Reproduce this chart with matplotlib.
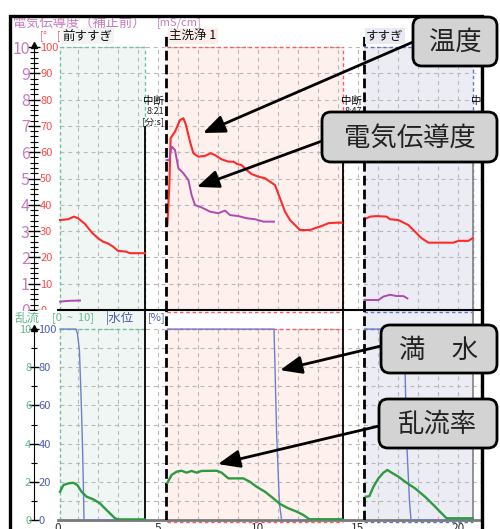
import matplotlib.pyplot as plt
from matplotlib.patches import FancyBboxPatch, Rectangle
from matplotlib.ticker import MultipleLocator

plt.rcParams['font.family'] = ['Noto Sans CJK JP', 'DejaVu Sans']

# ---- 工程 ----------------------------------------------------------------
step_names = ['前すすぎ', '主洗浄 1', 'すすぎ']
step_start = [0.1, 5.45, 15.3]      # 工程開始 [分]
step_stop = [4.35, 14.25, 20.75]    # 中断 [分]
stop_clock = ['8:21', '8:47', '']
restart_at = [5.4, 15.3]

# ---- 温度 [℃] ------------------------------------------------------------
temp_pre_t = [0.1, 0.5, 0.8, 1.0, 1.35, 1.7, 2.0, 2.25, 2.5, 2.75, 3.0, 3.4, 3.6, 4.35]
temp_pre = [34.2, 34.5, 35.5, 34.9, 32.7, 29.4, 27.3, 26.0, 25.3, 24.1, 22.5, 22.2, 21.6, 21.6]
temp_main_t = [5.47, 5.57, 5.63, 5.85, 6.1, 6.27, 6.4, 6.6, 6.77, 7.02, 7.35, 7.63, 7.85,
               8.18, 8.52, 8.77, 8.97, 9.18, 9.43, 9.68, 10.02, 10.35, 10.6, 10.85, 11.1,
               11.35, 11.6, 11.85, 12.1, 12.6, 12.85, 13.18, 13.52, 13.93, 14.2]
temp_main = [32.3, 48.2, 65.3, 67.8, 72.2, 72.9, 70.3, 64.0, 59.6, 58.3, 58.6, 59.6, 58.9,
             57.3, 56.4, 56.4, 55.5, 55.1, 53.2, 51.7, 50.7, 50.1, 48.8, 47.5, 42.5,
             37.4, 34.2, 32.3, 30.4, 30.4, 31.1, 31.9, 33.0, 33.2, 33.2]
temp_rin_t = [15.32, 15.6, 15.93, 16.43, 16.6, 17.02, 17.18, 17.52, 17.85, 18.18, 18.52,
              19.1, 19.77, 20.02, 20.52, 20.73]
temp_rin = [34.5, 35.5, 35.7, 35.5, 34.5, 34.2, 33.6, 32.3, 29.8, 27.3, 25.6,
            25.6, 25.6, 26.3, 26.3, 27.3]

# ---- 電気伝導度 [mS/cm] ---------------------------------------------------
cond_pre_t = [0.1, 0.6, 1.1]
cond_pre = [0.32, 0.35, 0.36]
cond_main_t = [5.43, 5.57, 5.63, 5.7, 5.85, 6.02, 6.27, 6.52, 6.68, 6.85, 7.18, 7.6, 8.02,
               8.35, 8.6, 9.02, 9.43, 9.85, 10.27, 10.8]
cond_main = [5.70, 5.70, 6.02, 6.21, 6.08, 5.39, 5.20, 4.94, 4.37, 3.99, 3.90, 3.74, 3.68,
             3.78, 3.61, 3.57, 3.49, 3.45, 3.36, 3.36]
cond_rin_t = [15.32, 16.02, 16.27, 16.6, 16.93, 17.27, 17.47]
cond_rin = [0.38, 0.38, 0.51, 0.58, 0.53, 0.53, 0.44]

# ---- 水位 [%] -------------------------------------------------------------
level_pre_t = [0.1, 0.9, 0.97, 1.07, 1.13, 1.18, 1.23, 1.27, 1.3, 4.35]
level_pre = [100, 100, 97.7, 89, 71.6, 55.9, 36.6, 17.4, 0, 0]
level_main_t = [5.47, 10.8, 10.85, 10.93, 11.07, 11.18, 14.25]
level_main = [100, 100, 80.3, 45.4, 8.7, 0, 0]
level_rin_t = [15.32, 17.3, 17.35, 17.43, 17.57, 17.65, 20.73]
level_rin = [100, 100, 80, 41.9, 10.5, 0, 0]

# ---- 乱流 [0~10] ----------------------------------------------------------
turb_pre_t = [0.1, 0.27, 0.52, 0.77, 0.97, 1.18, 1.43, 1.77, 2.1, 2.43, 2.85, 3.02, 4.35]
turb_pre = [1.48, 1.83, 1.92, 1.95, 1.83, 1.48, 1.22, 1.08, 0.87, 0.52, 0.09, 0.03, 0.03]
turb_main_t = [5.47, 5.68, 5.93, 6.18, 6.43, 6.68, 6.93, 7.18, 7.93, 8.18, 8.52, 9.27, 9.6,
               9.93, 10.35, 10.77, 11.1, 11.52, 11.93, 12.27, 12.57, 14.2]
turb_main = [1.95, 2.36, 2.53, 2.58, 2.48, 2.57, 2.48, 2.57, 2.58, 2.48, 2.18, 2.18, 2.0,
             1.74, 1.48, 1.13, 0.84, 0.61, 0.44, 0.26, 0.04, 0.04]
turb_rin_t = [15.4, 15.57, 15.77, 16.02, 16.27, 16.47, 16.68, 17.02, 17.43, 17.85, 18.35,
              18.77, 19.18, 19.43, 20.73]
turb_rin = [1.22, 1.25, 1.74, 2.18, 2.48, 2.62, 2.48, 2.27, 1.95, 1.66, 1.22,
            0.79, 0.35, 0.09, 0.09]

x_ticks = [0, 5, 10, 15, 20]
temp_ticks = list(range(0, 101, 10))
cond_ticks = list(range(0, 11))
level_ticks = list(range(0, 101, 20))
turb_ticks = list(range(0, 11, 2))

# colours
STEP_EDGE = ['#6cc3a3', '#ff5a5a', '#5a78d2']
STEP_FILL = ['#eff6f4', '#fdf0ed', '#ececf5']
LABEL_BG = ['#f2f4f3', '#fbeeea', '#e9e9f3']
STOP_COL = ['black', 'black', '#8a8a8a']
GRID = '#b8b8b8'
RED = '#ff2a2a'
PINK = '#b04ab0'
BLUE = '#6b80cc'
GREEN = '#2e9a40'
PINK_LBL = '#c77cbf'
RED_LBL = '#ff4a4a'
GREEN_LBL = '#62b98c'
BLUE_LBL = '#4a5fb0'

W, H = 500, 529
XMIN, XMAX = -1.2, 21.2


def inch(x, y):
    # pixel position (top-left origin) -> inches for dpi_scale_trans
    return x / 100, (H - y) / 100


fig = plt.figure(figsize=(W / 100, H / 100), dpi=100, facecolor='white')
ax_t = fig.add_axes([34 / W, 1 - 310 / H, 448 / W, 263 / H])
ax_c = ax_t.twinx()
ax_b = fig.add_axes([34 / W, 1 - 520 / H, 448 / W, 210 / H], sharex=ax_t)
ax_r = ax_b.twinx()

ax_t.set_xlim(XMIN, XMAX)
ax_t.set_ylim(0, 100)
ax_c.set_ylim(0, 10)
ax_b.set_ylim(0, 110)
ax_r.set_ylim(0, 11)

dash_grid = (0, (3.5, 3.5))
dash_edge = (0, (2.5, 2))
dash_heavy = (0, (3.5, 1.5))

# ---- background: step areas, grid ----------------------------------------
for i in range(3):
    s, e = step_start[i], step_stop[i]
    ax_t.axvspan(s, e, 0, 1, fc=STEP_FILL[i], ec='none', zorder=0)
    top_b = 1 if i != 1 else 100 / 110
    ax_b.axvspan(s, e, 0, top_b, fc=STEP_FILL[i], ec='none', zorder=0)

for y in temp_ticks[1:]:
    ax_t.hlines(y, 0.1, XMAX, colors=GRID, lw=0.8, linestyles=dash_grid, zorder=0.5)
ax_t.vlines(range(1, 21), 0, 100, colors=GRID, lw=0.8, linestyles=dash_grid, zorder=0.5)
for y in range(10, 101, 10):
    ax_b.hlines(y, 0.1, XMAX, colors=GRID, lw=0.8, linestyles=dash_grid, zorder=0.5)
ax_b.vlines(range(1, 21), 0, 100, colors=GRID, lw=0.8, linestyles=dash_grid, zorder=0.5)

for i in range(3):
    s, e, ec = step_start[i], step_stop[i], STEP_EDGE[i]
    ax_t.hlines(100, s, e, colors=ec, lw=1, linestyles=dash_edge, zorder=1, clip_on=False)
    ax_t.vlines(e, 0, 100, colors=ec, lw=1, linestyles=dash_edge, zorder=1)
    ax_b.hlines(100, s, e, colors=ec, lw=1, linestyles=dash_edge, zorder=1)
    if i == 0:
        ax_t.vlines(s, 0, 100, colors=ec, lw=1, linestyles=dash_edge, zorder=1)
        ax_b.vlines(s, 0, 100, colors=ec, lw=1, linestyles=dash_edge, zorder=1)
    else:
        ax_b.hlines(109, s, e, colors=ec, lw=1, linestyles=dash_edge, zorder=1)
        ax_b.hlines(-1.2, s, e, colors=ec, lw=1, linestyles=dash_edge, zorder=1,
                    clip_on=False)

    # 中断 line and label
    ax_t.vlines(e, 0, 70, colors=STOP_COL[i], lw=1.3, zorder=2)
    ax_b.axvline(e, color=STOP_COL[i], lw=1.3, zorder=2)
    ax_t.text(e - 0.1, 79.6, '中断', fontsize=7.5, ha='left', va='center',
              color='black', clip_on=True, zorder=5)
    if stop_clock[i]:
        ax_t.text(e + 0.95, 75.4, stop_clock[i], fontsize=6.5, ha='right', va='center',
                  color='#222222', zorder=5)
        ax_t.text(e + 0.95, 71.4, '[分:s]', fontsize=6.5, ha='right', va='center',
                  color='#222222', zorder=5)

    # step name above the chart
    ax_t.text(s + 0.1, 1.04, step_names[i], transform=ax_t.get_xaxis_transform(),
              fontsize=9, ha='left', va='center', color='#111111', zorder=5,
              bbox=dict(boxstyle='square,pad=0.12', fc=LABEL_BG[i], ec='none'))

# restart markers (heavy dashed)
for r in restart_at:
    ax_t.vlines(r, 0, 105.3, colors='black', lw=2, linestyles=dash_heavy, zorder=4,
                clip_on=False)
    ax_b.axvline(r, color='black', lw=2, linestyle=dash_heavy, zorder=4)

# ---- curves ----------------------------------------------------------------
for t, v in [(temp_pre_t, temp_pre), (temp_main_t, temp_main), (temp_rin_t, temp_rin)]:
    ax_t.plot(t, v, color=RED, lw=1.5, zorder=3)
for t, v in [(cond_pre_t, cond_pre), (cond_main_t, cond_main), (cond_rin_t, cond_rin)]:
    ax_c.plot(t, v, color=PINK, lw=1.4, zorder=3)
for t, v in [(level_pre_t, level_pre), (level_main_t, level_main), (level_rin_t, level_rin)]:
    ax_b.plot(t, v, color=BLUE, lw=1.0, zorder=3)
for t, v in [(turb_pre_t, turb_pre), (turb_main_t, turb_main), (turb_rin_t, turb_rin)]:
    ax_r.plot(t, v, color=GREEN, lw=1.7, zorder=3)

# ---- axes / rulers -----------------------------------------------------------
ax_t.spines['top'].set_visible(False)
ax_t.spines['left'].set_visible(False)
ax_t.spines['bottom'].set_visible(False)
ax_t.spines['right'].set_position(('axes', 0))
ax_t.spines['right'].set_bounds(0, 100)
ax_t.yaxis.set_ticks_position('right')
ax_t.set_yticks(temp_ticks)
ax_t.yaxis.set_minor_locator(MultipleLocator(2))
ax_t.tick_params(axis='y', which='major', direction='inout', length=8, width=1,
                 pad=0.4, labelsize=8, labelcolor=RED_LBL)
ax_t.tick_params(axis='y', which='minor', direction='inout', length=5.5, width=0.8)
ax_t.tick_params(axis='x', bottom=False, labelbottom=False)

for side in ['top', 'bottom', 'left']:
    ax_c.spines[side].set_visible(False)
ax_c.spines['right'].set_bounds(0, 10)
ax_c.spines['right'].set_linewidth(1.5)
ax_c.yaxis.set_ticks_position('left')
ax_c.set_yticks(cond_ticks)
ax_c.tick_params(axis='y', which='both', length=0, pad=3, labelsize=11.5,
                 labelcolor=PINK_LBL)

ax_b.spines['left'].set_visible(False)
ax_b.spines['top'].set_bounds(0, XMAX)
ax_b.spines['top'].set_linewidth(1.5)
ax_b.spines['bottom'].set_bounds(0, XMAX)
ax_b.spines['bottom'].set_color('#7a7a7a')
ax_b.spines['bottom'].set_linewidth(2)
ax_b.spines['right'].set_position(('axes', 0))
ax_b.spines['right'].set_bounds(0, 100)
ax_b.yaxis.set_ticks_position('right')
ax_b.set_yticks(level_ticks)
ax_b.yaxis.set_minor_locator(MultipleLocator(10))
ax_b.tick_params(axis='y', which='major', direction='inout', length=7.5, width=1,
                 pad=-0.6, labelsize=8, labelcolor=BLUE_LBL)
ax_b.tick_params(axis='y', which='minor', direction='inout', length=4.5, width=0.8)
ax_b.set_xticks(x_ticks)
ax_b.tick_params(axis='x', length=0, pad=1.5, labelsize=8.5, labelcolor='#333333')

for side in ['top', 'bottom', 'left']:
    ax_r.spines[side].set_visible(False)
ax_r.spines['right'].set_linewidth(1.5)
ax_r.yaxis.set_ticks_position('left')
ax_r.set_yticks(turb_ticks)
ax_r.tick_params(axis='y', which='both', length=0, pad=2, labelsize=8,
                 labelcolor=GREEN_LBL)

for ax, top in [(ax_t, 100), (ax_b, 100)]:
    ax.plot([0], [top + 0.8], marker='^', ms=5, color='black',
            transform=ax.get_yaxis_transform(), clip_on=False, zorder=5)

# ---- header texts ----------------------------------------------------------
tr = fig.dpi_scale_trans
fig.add_artist(Rectangle(inch(11, 324), 46 / 100, 13.5 / 100, transform=tr,
                         fc='white', ec='none', zorder=1))
fig.text(*inch(13, 23), '電気伝導度（補正前）', transform=tr, fontsize=9.5,
         color=PINK_LBL, va='center')
fig.text(*inch(157, 23), '[mS/cm]', transform=tr, fontsize=8, color=PINK_LBL,
         va='center')
fig.text(*inch(40, 36), '[°', transform=tr, fontsize=7, color=RED_LBL, va='center')
fig.text(*inch(57, 36), '[', transform=tr, fontsize=7, color=RED_LBL, va='center')
fig.text(*inch(14, 318), '乱流', transform=tr, fontsize=9, color=GREEN_LBL, va='center')
fig.text(*inch(52, 318), '[0  ~  10]', transform=tr, fontsize=8, color=GREEN_LBL,
         va='center')
fig.text(*inch(106, 318), '|水位', transform=tr, fontsize=9, color=BLUE_LBL,
         va='center')
fig.text(*inch(148, 318), '[%]', transform=tr, fontsize=8, color=BLUE_LBL, va='center')

# outer frame
fig.add_artist(Rectangle((10 / 100, -0.2), (482 - 10) / 100, (H - 16) / 100 + 0.2,
                         transform=tr, fill=False, ec='black', lw=2.4, zorder=5))


# ---- callouts ----------------------------------------------------------------
def callout(text, box, start, ax, tip):
    x0, y0, x1, y1 = box
    fig.add_artist(FancyBboxPatch(inch(x0, y1), (x1 - x0) / 100, (y1 - y0) / 100,
                                  boxstyle='round,pad=0,rounding_size=0.09',
                                  transform=tr, fc='#d3d3d3', ec='black', lw=2,
                                  zorder=6))
    fig.text(*inch((x0 + x1) / 2, (y0 + y1) / 2 + 1), text, transform=tr,
             fontsize=19, color='#222222', ha='center', va='center', zorder=7)
    ax.annotate('', xy=tip, xycoords='data', xytext=inch(*start), textcoords=tr,
                arrowprops=dict(arrowstyle='-|>,head_length=1.1,head_width=0.45',
                                mutation_scale=12, lw=2, color='black',
                                shrinkA=0, shrinkB=0),
                annotation_clip=False, zorder=6)


callout('温度', (413, 17, 497, 66), (413, 42), ax_t, (7.25, 67.3))
callout('電気伝導度', (322, 112, 497, 162), (322, 141), ax_c, (6.95, 4.68))
callout('満　水', (381, 325, 497, 373), (381, 346), ax_b, (11.1, 78.5))
callout('乱流率', (379, 399, 497, 448), (379, 426), ax_r, (8.0, 2.93))

fig.savefig('out.png', dpi=100, facecolor='white')
plt.close(fig)
